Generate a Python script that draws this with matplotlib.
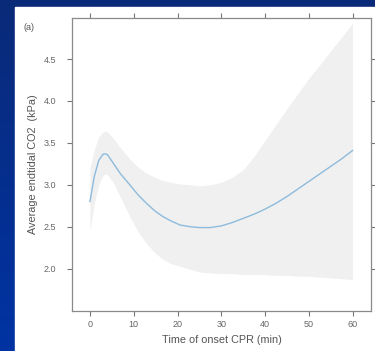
import numpy as np
import matplotlib
matplotlib.use("Agg")
import matplotlib.pyplot as plt
from matplotlib.patches import Rectangle

# Values
time_min = [0, 1, 2, 3, 3.5, 4, 5.3, 7, 9.1, 11, 12.9, 14.8, 16.7, 18.5, 20.6,
            23, 25, 27.5, 30, 32.5, 35, 37.5, 40, 42.5, 45, 47.5, 50, 52.5, 55, 57.5, 60]
mean_co2 = [2.80, 3.10, 3.29, 3.365, 3.37, 3.36, 3.26, 3.13, 3.00, 2.88, 2.78, 2.69, 2.62, 2.57, 2.52,
            2.50, 2.49, 2.49, 2.51, 2.55, 2.60, 2.65, 2.71, 2.78, 2.86, 2.95, 3.04, 3.13, 3.22, 3.31, 3.41]
upper_ci = [3.20, 3.42, 3.57, 3.63, 3.64, 3.63, 3.56, 3.44, 3.31, 3.21, 3.14, 3.09, 3.05, 3.03, 3.01,
            3.00, 2.99, 3.00, 3.03, 3.09, 3.18, 3.34, 3.53, 3.72, 3.91, 4.09, 4.27, 4.43, 4.60, 4.76, 4.93]
lower_ci = [2.45, 2.78, 3.00, 3.11, 3.13, 3.12, 3.03, 2.85, 2.62, 2.44, 2.30, 2.19, 2.11, 2.06, 2.03,
            1.99, 1.96, 1.95, 1.94, 1.94, 1.93, 1.93, 1.93, 1.92, 1.92, 1.91, 1.91, 1.90, 1.89, 1.88, 1.87]

x_ticks = [0, 10, 20, 30, 40, 50, 60]
y_ticks = [2.0, 2.5, 3.0, 3.5, 4.0, 4.5]

fig = plt.figure(figsize=(3.75, 3.51), dpi=100)

# blue slide background with a slight vertical gradient
bg = fig.add_axes([0, 0, 1, 1])
grad = np.linspace(0, 1, 256).reshape(-1, 1)
cmap = matplotlib.colors.LinearSegmentedColormap.from_list("bg", ["#0a2a78", "#0033a3"])
bg.imshow(grad, aspect="auto", cmap=cmap, extent=[0, 1, 0, 1], origin="upper")
bg.add_patch(Rectangle((15 / 375, 0), 1 - 15 / 375, 1 - 7 / 351, color="white"))
bg.set_xlim(0, 1)
bg.set_ylim(0, 1)
bg.axis("off")

ax = fig.add_axes([72 / 375, 1 - 311 / 351, (371 - 72) / 375, (311 - 18) / 351])
ax.fill_between(time_min, lower_ci, upper_ci, color="#f0f0f0", linewidth=0)
ax.plot(time_min, mean_co2, color="#8dbbdd", linewidth=1.0)

ax.set_xlim(-4.1, 64.2)
ax.set_ylim(1.495, 4.99)
ax.set_xticks(x_ticks)
ax.set_yticks(y_ticks)
ax.set_yticklabels(["%.1f" % v for v in y_ticks])

for s in ax.spines.values():
    s.set_color("#8a8a8a")
    s.set_linewidth(0.9)

ax.tick_params(direction="out", length=3.5, width=0.8, color="#777777",
               labelcolor="#666666", labelsize=6.5, top=True, right=True)
ax.tick_params(axis="y", pad=8)
ax.tick_params(axis="x", pad=3)
for lab in ax.get_xticklabels() + ax.get_yticklabels():
    lab.set_family("Liberation Sans")

fig.text(33 / 375, 1 - 164 / 351, "Average endtidal CO2  (kPa)", rotation=90,
         ha="center", va="center", fontsize=7.8, color="#555555", family="Liberation Sans")
fig.text(222 / 375, 1 - 340 / 351, "Time of onset CPR (min)", ha="center", va="center",
         fontsize=7.8, color="#555555", family="Liberation Sans")
fig.text(24 / 375, 1 - 28 / 351, "(a)", ha="left", va="center",
         fontsize=6.5, color="#555555", family="Liberation Sans")

fig.savefig("out.png", dpi=100)
